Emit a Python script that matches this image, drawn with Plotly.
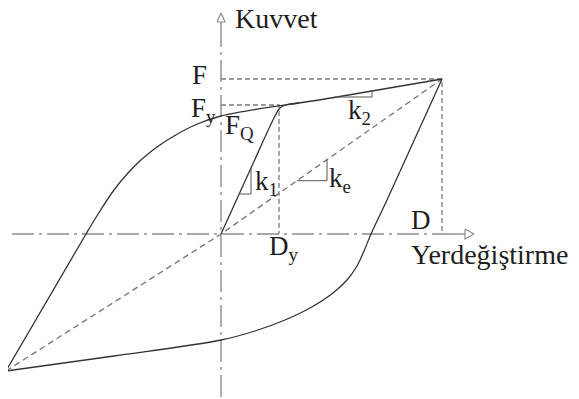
import plotly.graph_objects as go

# hysteresis loop (displacement, force in drawing units)
D, F = 221, 155          # peak displacement / force
Dy, Fy = 58, 129         # yield point
FQ = 118                 # characteristic strength (force at zero displacement)
neg_x, neg_y = -215, -137

upper_x = [-215, -135, -121, -107, -93, -79, -64, -47, -26, 0, 110, 221]
upper_y = [-137, 0, 23, 44, 61, 75, 87, 98, 109, 118, 136, 155]

lower_x = [-215, -107, 0, 34, 64, 89, 112, 126, 136, 143, 150, 166, 221]
lower_y = [-137, -122, -106, -97, -86, -74, -59, -46, -32, -17, 0, 34, 155]

load_x = [0, 30, 54, 59, 65, 78]
load_y = [0, 66, 118, 126, 129, 131]

k1 = Fy / Dy
ke = F / D
k2 = (F - FQ) / D

AXIS = "#8c8c8c"
DASH = "#7a7a7a"
INK = "#333333"
TXT = "#1e1e1e"
FONT = "Liberation Serif"

fig = go.Figure()

def line(x, y, color, width=1.2, dash="solid", shape="linear"):
    fig.add_trace(go.Scatter(x=x, y=y, mode="lines", hoverinfo="skip",
                             line=dict(color=color, width=width, dash=dash, shape=shape)))

# axes (dash-dot) with open arrow heads
x_left, x_tip = -209, 253
y_bot, y_tip = -163, 221
line([x_left, x_tip - 24], [0, 0], AXIS, 1.4, "22px,5px,3px,5px")
line([x_tip - 24, x_tip - 9], [0, 0], AXIS, 1.4)
line([x_tip - 9, x_tip, x_tip - 9, x_tip - 9], [5, 0, -5, 5], AXIS, 1.2)
line([0, 0], [y_bot, y_tip - 30], AXIS, 1.4, "22px,5px,3px,5px")
line([0, 0], [y_tip - 30, y_tip - 9], AXIS, 1.4)
line([-4, 0, 4, -4], [y_tip - 9, y_tip, y_tip - 9, y_tip - 9], AXIS, 1.2)

# reference dashed lines
line([0, D, D], [F, F, 0], DASH, 1.3, "5px,3px")
line([0, Dy, Dy], [Fy, Fy, 0], DASH, 1.3, "5px,3px")
line([neg_x, 0, D], [neg_y, 0, F], DASH, 1.4, "6px,4px")

# loop branches
line(upper_x, upper_y, INK, 1.3, shape="spline")
line(lower_x, lower_y, INK, 1.3, shape="spline")
line(load_x, load_y, INK, 1.3, shape="spline")

# slope triangles
line([18, 30, 30], [18 * k1, 18 * k1, 30 * k1], "#555555", 1.0)
line([76, 106, 106], [76 * ke, 76 * ke, 106 * ke], "#555555", 1.0)
xa = (137 - FQ) / k2
line([xa, 151, 151], [137, 137, FQ + 151 * k2], "#555555", 1.0)

labels = [
    ("Kuvvet", 12, 216, 28),
    ("Yerdeğiştirme", 188, -20, 28),
    ("F", -31, F + 4, 27),
    ("F<sub>y</sub>", -32, Fy - 5, 27),
    ("F<sub>Q</sub>", 2, FQ - 11, 27),
    ("k<sub>1</sub>", 32, 51, 27),
    ("k<sub>e</sub>", 106, 54, 27),
    ("k<sub>2</sub>", 125, 122, 27),
    ("D<sub>y</sub>", 46, -14, 27),
    ("D", 188, 14, 27),
]
for txt, x, y, size in labels:
    fig.add_annotation(x=x, y=y, text=txt, showarrow=False, xanchor="left",
                       yanchor="middle", font=dict(family=FONT, size=size, color=TXT))

# the page body adds an 8px margin, so the figure covers window pixels 8..579 / 8..399
fig.update_layout(
    width=571, height=391, margin=dict(l=0, r=0, t=0, b=0),
    paper_bgcolor="white", plot_bgcolor="white", showlegend=False,
    xaxis=dict(range=[-213, 358], visible=False, fixedrange=True),
    yaxis=dict(range=[-165, 226], visible=False, fixedrange=True),
)

fig.write_html("out.html")
